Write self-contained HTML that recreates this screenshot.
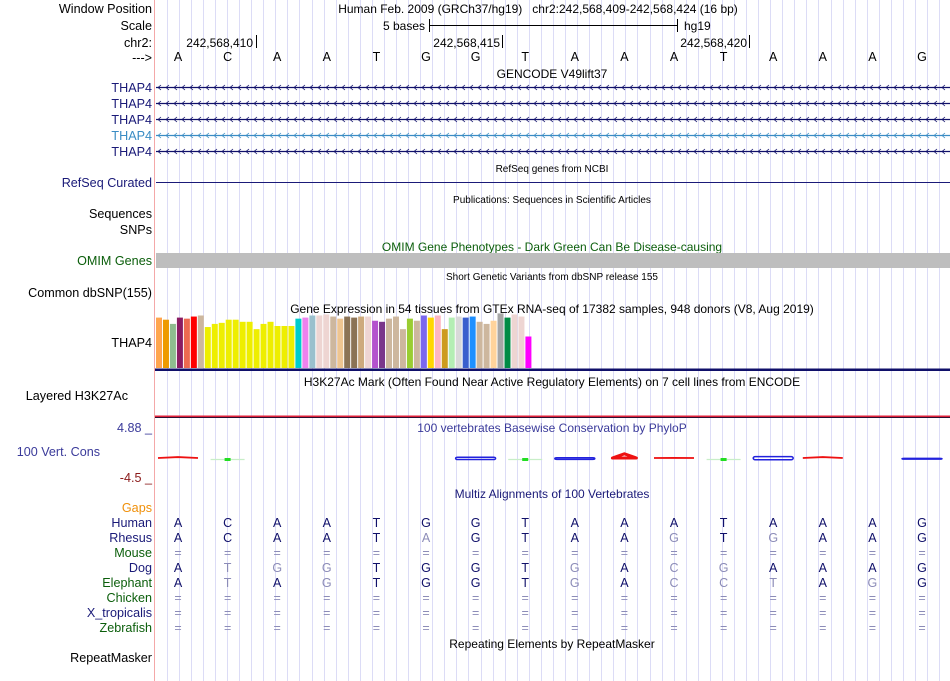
<!DOCTYPE html>
<html><head><meta charset="utf-8">
<style>
html,body{margin:0;padding:0;background:#fff;}
svg{display:block;font-family:"Liberation Sans",sans-serif;}
</style></head>
<body>
<svg id="c" width="950" height="681" viewBox="0 0 950 681" xmlns="http://www.w3.org/2000/svg">
<g id="grid"></g>
<line x1="154.5" y1="0" x2="154.5" y2="681" stroke="#f4a8a8" stroke-width="1"/>
<g id="labels" font-size="12.6" text-anchor="end">
<text x="152" y="13" fill="#000">Window Position</text>
<text x="152" y="30" fill="#000">Scale</text>
<text x="152" y="47" fill="#000">chr2:</text>
<text x="152" y="62" fill="#000">---&gt;</text>
<text x="152" y="92" fill="#1a1a78">THAP4</text>
<text x="152" y="108" fill="#1a1a78">THAP4</text>
<text x="152" y="124" fill="#1a1a78">THAP4</text>
<text x="152" y="140" fill="#3a8cc4">THAP4</text>
<text x="152" y="156" fill="#1a1a78">THAP4</text>
<text x="152" y="187" fill="#1a1a78">RefSeq Curated</text>
<text x="152" y="218" fill="#000">Sequences</text>
<text x="152" y="234" fill="#000">SNPs</text>
<text x="152" y="265" fill="#0b5e0b">OMIM Genes</text>
<text x="152" y="297" fill="#000">Common dbSNP(155)</text>
<text x="152" y="347" fill="#000">THAP4</text>
<text x="128" y="400" fill="#000">Layered H3K27Ac</text>
<text x="152" y="432" fill="#3a3a9a">4.88 _</text>
<text x="100" y="456" fill="#3a3a9a">100 Vert. Cons</text>
<text x="152" y="482" fill="#8b1a1a">-4.5 _</text>
<text x="152" y="512" fill="#f0900a">Gaps</text>
<text x="152" y="527" fill="#1a1a78">Human</text>
<text x="152" y="542" fill="#1a1a78">Rhesus</text>
<text x="152" y="557" fill="#0b5e0b">Mouse</text>
<text x="152" y="572" fill="#1a1a78">Dog</text>
<text x="152" y="587" fill="#0b5e0b">Elephant</text>
<text x="152" y="602" fill="#0b5e0b">Chicken</text>
<text x="152" y="617" fill="#1a1a78">X_tropicalis</text>
<text x="152" y="632" fill="#0b5e0b">Zebrafish</text>
<text x="152" y="662" fill="#000">RepeatMasker</text>
</g>
<g font-size="12" text-anchor="middle">
<text x="538" y="13" fill="#000">Human Feb. 2009 (GRCh37/hg19)&#160;&#160;&#160;chr2:242,568,409-242,568,424 (16 bp)</text>
<text x="552" y="78" fill="#000">GENCODE V49lift37</text>
<text x="552" y="172" fill="#000" font-size="10">RefSeq genes from NCBI</text>
<text x="552" y="203" fill="#000" font-size="10">Publications: Sequences in Scientific Articles</text>
<text x="552" y="251" fill="#0b5e0b">OMIM Gene Phenotypes - Dark Green Can Be Disease-causing</text>
<text x="552" y="280" fill="#000" font-size="10">Short Genetic Variants from dbSNP release 155</text>
<text x="552" y="313" fill="#000">Gene Expression in 54 tissues from GTEx RNA-seq of 17382 samples, 948 donors (V8, Aug 2019)</text>
<text x="552" y="386" fill="#000">H3K27Ac Mark (Often Found Near Active Regulatory Elements) on 7 cell lines from ENCODE</text>
<text x="552" y="432" fill="#3a3a9a">100 vertebrates Basewise Conservation by PhyloP</text>
<text x="552" y="498" fill="#1a1a78">Multiz Alignments of 100 Vertebrates</text>
<text x="552" y="648" fill="#000">Repeating Elements by RepeatMasker</text>
</g>
<g font-size="12" fill="#000">
<text x="425" y="30" text-anchor="end">5 bases</text>
<line x1="429.5" y1="19" x2="429.5" y2="32" stroke="#000"/>
<line x1="429.5" y1="25.5" x2="678" y2="25.5" stroke="#000"/>
<line x1="677.5" y1="19" x2="677.5" y2="32" stroke="#000"/>
<text x="684" y="30">hg19</text>
<text x="253" y="47" text-anchor="end">242,568,410</text>
<line x1="256.5" y1="35" x2="256.5" y2="48" stroke="#000"/>
<text x="500" y="47" text-anchor="end">242,568,415</text>
<line x1="502.5" y1="35" x2="502.5" y2="48" stroke="#000"/>
<text x="747" y="47" text-anchor="end">242,568,420</text>
<line x1="749.5" y1="35" x2="749.5" y2="48" stroke="#000"/>
</g>
<g id="bases" font-size="12.5" text-anchor="middle"></g>
<g id="genes"></g>
<line x1="156" y1="182.5" x2="950" y2="182.5" stroke="#1a1a78"/>
<rect x="156" y="253" width="794" height="15" fill="#bebebe"/>
<g id="gtex"></g>
<rect x="155" y="368.5" width="795" height="2.5" fill="#10106a"/>
<rect x="155" y="415.5" width="795" height="1.5" fill="#e0203a"/>
<rect x="155" y="417" width="795" height="1" fill="#301030"/>
<g id="phylop"></g>
<g id="multiz" font-size="12.5" text-anchor="middle"></g>
</svg>
<script>
var refBases = ["A","C","A","A","T","G","G","T","A","A","A","T","A","A","A","G"];
var species = ["Human","Rhesus","Mouse","Dog","Elephant","Chicken","X_tropicalis","Zebrafish"];
var alnHuman = "ACAATGGTAAATAAAG";
var alnRhesus = "ACAATaGTAAgTgAAG";
var alnMouse = "================";
var alnDog = "AtggTGGTgAcgAAAG";
var alnElephant = "AtAgTGGTgAcctAgG";
var alnChicken = "================";
var alnXtrop = "================";
var alnZebrafish = "================";
var tissueValues = [48,46,42,48,47,49,50,39,42,43,46,46,44,44,37,42,44,40,40,40,47,48,50,50,51,49,47,49,48,49,49,45,44,47,49,37,47,45,50,48,50,37,48,49,48,49,44,42,45,52,48,51,49,30];
var tissueColors = ["#FFA54F","#EE9A00","#8FBC8F","#8B1C62","#EE6A50","#FF0000","#CDB79E","#EEEE00","#EEEE00","#EEEE00","#EEEE00","#EEEE00","#EEEE00","#EEEE00","#EEEE00","#EEEE00","#EEEE00","#EEEE00","#EEEE00","#EEEE00","#00CDCD","#EE82EE","#9AC0CD","#EED5D2","#EED5D2","#CDB79E","#EEC591","#8B7355","#8B7355","#CDAA7D","#EED5D2","#B452CD","#7A378B","#CDB79E","#CDB79E","#CDB79E","#9ACD32","#CDB79E","#7A67EE","#FFD700","#FFB6C1","#CD9B1D","#B4EEB4","#D9D9D9","#3A5FCD","#1E90FF","#CDB79E","#CDB79E","#FFD39B","#A6A6A6","#008B45","#EED5D2","#EED5D2","#FF00FF"];
var phylopValues = [1.5,-0.3,0,0,0,0,-1.5,0.3,-1.0,4.0,0.8,0.2,-2.0,1.5,0,-0.5];

var NS="http://www.w3.org/2000/svg";
function mk(tag,attrs,parent){var e=document.createElementNS(NS,tag);for(var k in attrs)e.setAttribute(k,attrs[k]);parent.appendChild(e);return e;}
function baseX(i){return 178+i*49.6;}
function barX(i){return 156+i*6.97;}
var gtexBase=368, gtexScale=1.05;
function barY(v){return gtexBase-v*gtexScale;}
var phyZero=459, phyScale=1.3;
function phyY(v){return phyZero-v*phyScale;}

var grid=document.getElementById('grid');
for(var gx=166.7;gx<950;gx+=12.07){
  var l=mk('line',{x1:Math.round(gx)+0.5,y1:0,x2:Math.round(gx)+0.5,y2:681,stroke:'#dcdcf6','stroke-width':1},grid);
  
  
}
var bg=document.getElementById('bases');
refBases.forEach(function(b,i){
  var t=mk('text',{x:baseX(i),y:61,fill:'#000'},bg);t.textContent=b;
  
  
});
var genes=document.getElementById('genes');
[87,103,119,135,151].forEach(function(y,r){
  var col=r==3?'#3a8cc4':'#10106a';
  var g=mk('g',{},genes);
  
  
  mk('line',{x1:156,y1:y+0.5,x2:950,y2:y+0.5,stroke:col,'stroke-width':1.2},g);
  var d='';
  for(var x=158;x<948;x+=8){d+='M'+(x+3)+' '+(y-2)+'L'+x+' '+(y+0.5)+'L'+(x+3)+' '+(y+3);}
  mk('path',{d:d,stroke:col,fill:'none','stroke-width':0.8},g);
});
var gt=document.getElementById('gtex');
tissueValues.forEach(function(v,i){
  var r=mk('rect',{x:barX(i),y:barY(v),width:6,height:gtexBase-barY(v),fill:tissueColors[i]},gt);
  
  
});
var ph=document.getElementById('phylop');
phylopValues.forEach(function(v,i){
  if(v===0)return;
  var x=baseX(i), y=phyY(v), col, w;
  if(Math.abs(v)<0.5){
    var m=mk('line',{x1:x-17,y1:phyZero+0.5,x2:x+17,y2:phyZero+0.5,stroke:'#c8eec8','stroke-width':1.2},ph);
    
    
    var m2=mk('rect',{x:x-3,y:phyZero-1,width:6,height:3,fill:'#22dd22'},ph);
    
    
    return;}
  if(v>0){
    col='#ee1111'; w=v>3?12:20;
    var p=mk('path',{d:'M'+(x-w)+' '+(phyZero-1)+' L'+x+' '+y+' L'+(x+w)+' '+(phyZero-1)+(v>3?' Z':''),fill:'none',stroke:col,'stroke-width':v>3?3:1.8,'stroke-linejoin':'round'},ph);
    
    
  } else {
    col='#2222dd'; w=20; var h=-v*1.2;
    var p2=mk('rect',{x:x-w,y:phyZero-h,width:2*w,height:h*1.3,rx:2,fill:'none',stroke:col,'stroke-width':1.5},ph);
    
    
  }
});
var mz=document.getElementById('multiz');
var rows=[alnHuman,alnRhesus,alnMouse,alnDog,alnElephant,alnChicken,alnXtrop,alnZebrafish];
rows.forEach(function(s,r){
  for(var i=0;i<s.length;i++){
    var c=s[i], up=c.toUpperCase(), light=(c!==up)||c==='=';
    var t=mk('text',{x:baseX(i),y:527+r*15,fill:light?'#8c8cb8':'#10106a'},mz);
    t.textContent=up;
    
    
  }
});
</script>
</body></html>
